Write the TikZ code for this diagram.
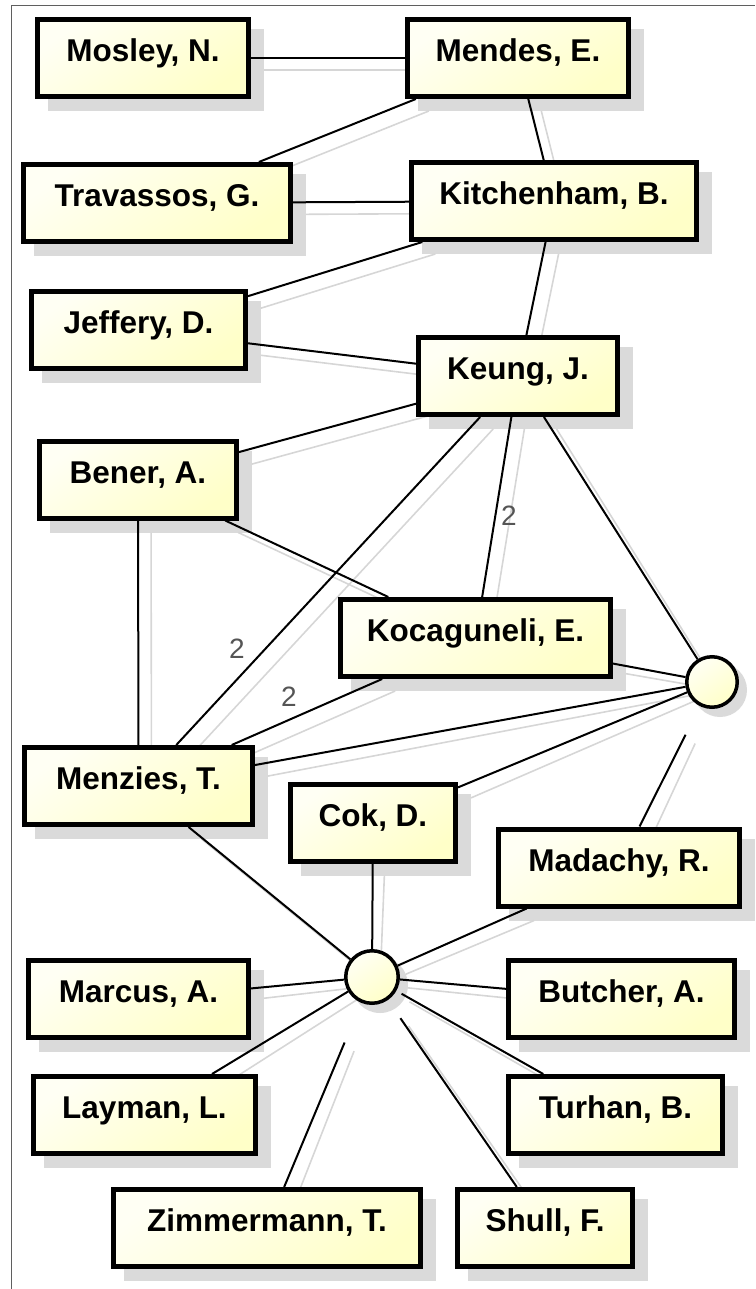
\documentclass[tikz,border=0pt]{standalone}
\usepackage{fontspec}
\setmainfont{Liberation Sans}

\definecolor{creamlight}{RGB}{255,255,244}
\definecolor{creamdark}{RGB}{255,255,200}
\definecolor{shadowgray}{RGB}{218,218,218}
\definecolor{shadowline}{RGB}{214,214,214}
\definecolor{framegray}{RGB}{95,95,95}
\definecolor{weightgray}{RGB}{85,85,85}

\tikzset{
  boxshadow/.style={rectangle, fill=shadowgray, inner sep=0pt, outer sep=0pt, minimum height=82pt},
  person/.style={rectangle, draw=black, line width=5pt, top color=creamlight, bottom color=creamdark,
    shading angle=35, minimum height=77pt, inner sep=0pt, text height=22pt, text depth=15pt,
    font=\bfseries\fontsize{31.5}{36}\selectfont},
  hubshadow/.style={circle, fill=shadowgray, inner sep=0pt, outer sep=0pt},
  hub/.style={circle, draw=black, line width=3.5pt, top color=creamlight, bottom color=creamdark,
    shading angle=35, inner sep=0pt},
  link/.style={draw=black, line width=2pt},
  linkshadow/.style={draw=shadowline, line width=1.6pt},
  weight/.style={font=\fontsize{28}{32}\selectfont, text=weightgray, inner sep=0pt},
}

% every co-author link, handed to a drawing macro
\newcommand\alledges[1]{%
  #1{mosley}{mendes}{}%
  #1{mendes}{travassos}{}%
  #1{mendes}{kitchenham}{}%
  #1{travassos}{kitchenham}{}%
  #1{kitchenham}{jeffery}{}%
  #1{kitchenham}{keung}{}%
  #1{jeffery}{keung}{}%
  #1{keung}{bener}{}%
  #1{keung}{kocaguneli}{}%
  #1{keung}{menzies}{}%
  #1{keung}{hubA}{}%
  #1{bener}{kocaguneli}{}%
  #1{bener}{menzies}{}%
  #1{kocaguneli}{hubA}{}%
  #1{kocaguneli}{menzies}{}%
  #1{menzies}{hubA}{}%
  #1{cok}{hubA}{}%
  #1{madachy}{hubA}{shorten >=32pt}%
  #1{menzies}{hubB}{}%
  #1{cok}{hubB}{}%
  #1{madachy}{hubB}{}%
  #1{marcus}{hubB}{}%
  #1{butcher}{hubB}{}%
  #1{layman}{hubB}{}%
  #1{turhan}{hubB}{shorten >=6pt}%
  #1{zimmermann}{hubB}{shorten >=43pt}%
  #1{shull}{hubB}{shorten >=22pt}%
}
\newcommand\shadowlink[3]{\draw[linkshadow,#3] (#1-s) -- (#2-s);}
\newcommand\blacklink[3]{\draw[link,#3] (#1) -- (#2);}

\begin{document}
\begin{tikzpicture}[x=1pt,y=-1pt]
\useasboundingbox (0,0) rectangle (755,1289);

% window frame
\draw[framegray, line width=1.2pt] (11.5,1289) -- (11.5,5.5) -- (755,5.5);

\def\people{mosley/143/58/216/{Mosley, N.},
  mendes/518/58/226/{Mendes, E.},
  travassos/157/203/272/{Travassos, G.},
  kitchenham/554/201/290/{Kitchenham, B.},
  jeffery/138.5/330/219/{Jeffery, D.},
  keung/518/376/204/{Keung, J.},
  bener/138/479.5/202/{Bener, A.},
  kocaguneli/475.5/638/275/{Kocaguneli, E.},
  menzies/138.5/786/233/{Menzies, T.},
  cok/373/822.5/170/{Cok, D.},
  madachy/619/867.5/246/{Madachy, R.},
  marcus/138.5/999/225/{Marcus, A.},
  butcher/621.5/999/231/{Butcher, A.},
  layman/144.5/1115/227/{Layman, L.},
  turhan/615.5/1115/219/{Turhan, B.},
  zimmermann/267/1228/312/{Zimmermann, T.},
  shull/545/1228/180/{Shull, F.}}

% drop shadows
\foreach \n/\cx/\cy/\w/\t in \people {
  \node[boxshadow, minimum width=\w pt, xshift=13pt, yshift=-12pt] (\n-s) at (\cx,\cy) {};
}
\node[hubshadow, minimum size=54pt, xshift=8pt, yshift=-8pt] (hubA-s) at (712,682) {};
\node[hubshadow, minimum size=56pt, xshift=8pt, yshift=-8pt] (hubB-s) at (372,977) {};

% shadow strokes of the links
\alledges\shadowlink

% authors and hubs
\foreach \n/\cx/\cy/\w/\t in \people {
  \node[person, minimum width=\w pt-5pt] (\n) at (\cx,\cy) {\t};
}
\node[hub, minimum size=50.5pt] (hubA) at (712,682) {};
\node[hub, minimum size=52.5pt] (hubB) at (372,977) {};

% links
\alledges\blacklink

% link weights
\node[weight] (wKK) at (509,516) {2};
\node[weight] (wKM) at (237,649) {2};
\node[weight] (wCM) at (289,697) {2};
\end{tikzpicture}
\end{document}
